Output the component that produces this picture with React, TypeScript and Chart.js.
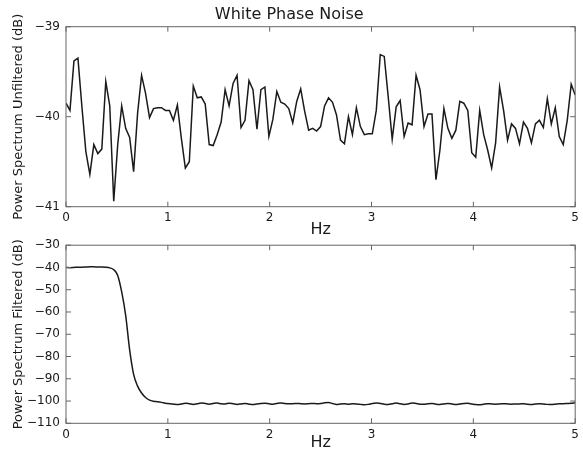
import React, { useEffect, useRef } from 'react';
import { Chart, registerables } from 'chart.js';

Chart.register(...registerables);

// ---------- data ----------
const FREQ_MAX_HZ = 5;
const N_BINS = 128; // 129 frequency bins from 0 to 5 Hz

const UNFILTERED_DB = [
  -39.85, -39.93, -39.38, -39.35, -39.89, -40.39, -40.64, -40.31, -40.41, -40.36,
  -39.61, -39.88, -40.94, -40.31, -39.88, -40.13, -40.23, -40.61, -39.96, -39.54,
  -39.74, -40.01, -39.91, -39.90, -39.90, -39.93, -39.93, -40.04, -39.87, -40.24,
  -40.57, -40.50, -39.66, -39.79, -39.78, -39.86, -40.31, -40.32, -40.20, -40.06,
  -39.70, -39.88, -39.63, -39.54, -40.12, -40.04, -39.60, -39.70, -40.14, -39.70,
  -39.67, -40.22, -40.03, -39.72, -39.84, -39.86, -39.91, -40.07, -39.83, -39.69,
  -39.94, -40.15, -40.13, -40.16, -40.11, -39.88, -39.79, -39.84, -39.98, -40.26,
  -40.30, -40.00, -40.20, -39.90, -40.11, -40.20, -40.19, -40.19, -39.93, -39.31,
  -39.33, -39.78, -40.25, -39.89, -39.82, -40.22, -40.07, -40.09, -39.54, -39.70,
  -40.11, -39.97, -39.97, -40.70, -40.37, -39.91, -40.13, -40.24, -40.15, -39.83,
  -39.85, -39.93, -40.40, -40.45, -39.93, -40.20, -40.37, -40.57, -40.29, -39.67,
  -39.93, -40.26, -40.08, -40.13, -40.30, -40.06, -40.13, -40.29, -40.08, -40.04,
  -40.12, -39.80, -40.08, -39.90, -40.22, -40.31, -40.04, -39.64, -39.76,
];

const FILTERED_DB = [
  -40.0, -40.1, -40.0, -39.9, -39.9, -39.8, -39.7, -39.7, -39.8, -39.8,
  -39.9, -40.2, -41.0, -43.6, -51.0, -61.5, -77.0, -88.0, -93.3, -96.4,
  -98.4, -99.6, -100.1, -100.3, -100.6, -101.0, -101.2, -101.4, -101.6, -101.3,
  -101.0, -101.2, -101.5, -101.2, -100.9, -101.1, -101.4, -101.1, -100.9, -101.2,
  -101.3, -101.0, -101.2, -101.5, -101.3, -101.1, -101.4, -101.6, -101.3, -101.1,
  -101.0, -101.2, -101.4, -101.1, -100.9, -101.1, -101.2, -101.2, -101.1, -101.2,
  -101.3, -101.2, -101.1, -101.2, -101.1, -100.8, -100.7, -101.1, -101.5, -101.3,
  -101.2, -101.4, -101.2, -101.3, -101.5, -101.7, -101.5, -101.1, -100.9, -101.1,
  -101.4, -101.5, -101.2, -100.9, -101.2, -101.5, -101.3, -100.9, -101.1, -101.4,
  -101.4, -101.2, -101.1, -101.4, -101.5, -101.3, -101.1, -101.3, -101.6, -101.3,
  -101.1, -101.0, -101.3, -101.6, -101.7, -101.4, -101.2, -101.3, -101.4, -101.3,
  -101.2, -101.3, -101.4, -101.3, -101.3, -101.2, -101.4, -101.5, -101.3, -101.2,
  -101.3, -101.5, -101.6, -101.4, -101.2, -101.2, -101.1, -101.0, -100.8,
];

const X_TICKS = [0, 1, 2, 3, 4, 5];
const TOP_Y_RANGE = [-41, -39];
const TOP_Y_STEP = 1;
const BOTTOM_Y_RANGE = [-110, -30];
const BOTTOM_Y_STEP = 10;

const TITLE = 'White Phase Noise';
const TOP_Y_LABEL = 'Power Spectrum Unfiltered (dB)';
const BOTTOM_Y_LABEL = 'Power Spectrum Filtered (dB)';
const X_LABEL = 'Hz';

const FREQS = UNFILTERED_DB.map((_, i) => (i * FREQ_MAX_HZ) / N_BINS);

// ---------- styling ----------
const FONT = 'DejaVu Sans';
const TEXT = '#1a1a1a';
const LINE = '#1a1a1a';
const FRAME = '#666666';

const minusify = (v: number | string) => String(v).replace('-', '\u2212');

const framePlugin = {
  id: 'mplFrame',
  afterDraw(chart: any) {
    const { ctx, chartArea: a, scales } = chart;
    const L = 5;
    ctx.save();
    ctx.strokeStyle = FRAME;
    ctx.lineWidth = 1;
    ctx.strokeRect(a.left, a.top, a.right - a.left, a.bottom - a.top);
    ctx.beginPath();
    scales.x.ticks.forEach((t: any) => {
      const px = scales.x.getPixelForValue(t.value);
      ctx.moveTo(px, a.bottom);
      ctx.lineTo(px, a.bottom - L);
      ctx.moveTo(px, a.top);
      ctx.lineTo(px, a.top + L);
    });
    scales.y.ticks.forEach((t: any) => {
      const py = scales.y.getPixelForValue(t.value);
      ctx.moveTo(a.left, py);
      ctx.lineTo(a.left + L, py);
      ctx.moveTo(a.right, py);
      ctx.lineTo(a.right - L, py);
    });
    ctx.stroke();
    ctx.restore();
  },
};

function makeConfig(opts: {
  values: number[];
  yRange: number[];
  yStep: number;
  yLabel: string;
  title?: string;
  xAxisHeight: number;
  padTop: number;
  smooth: boolean;
}): any {
  return {
    type: 'line',
    data: {
      datasets: [
        {
          data: opts.values.map((v, i) => ({ x: FREQS[i], y: v })),
          borderColor: LINE,
          borderWidth: 1.5,
          pointRadius: 0,
          fill: false,
          tension: 0,
          cubicInterpolationMode: opts.smooth ? 'monotone' : 'default',
        },
      ],
    },
    options: {
      responsive: false,
      animation: false,
      devicePixelRatio: 1,
      layout: { padding: { left: 0, right: 4.5, top: opts.padTop, bottom: 0 } },
      plugins: {
        legend: { display: false },
        tooltip: { enabled: false },
        title: opts.title
          ? {
              display: true,
              text: opts.title,
              color: TEXT,
              font: { family: FONT, size: 16, weight: 'normal' },
              padding: { top: 5.6, bottom: 1.9 },
            }
          : { display: false },
      },
      scales: {
        x: {
          type: 'linear',
          min: X_TICKS[0],
          max: X_TICKS[X_TICKS.length - 1],
          afterBuildTicks: (s: any) => {
            s.ticks = X_TICKS.map((v) => ({ value: v }));
          },
          ticks: {
            color: TEXT,
            font: { family: FONT, size: 12 },
            padding: 4,
            maxRotation: 0,
            autoSkip: false,
            callback: (v: any) => minusify(v),
          },
          grid: { display: false, drawTicks: false },
          border: { display: false },
          title: {
            display: true,
            text: X_LABEL,
            color: TEXT,
            font: { family: FONT, size: 16 },
            padding: { top: 0, bottom: 0.5 },
          },
          afterFit: (s: any) => {
            s.height = opts.xAxisHeight;
          },
        },
        y: {
          type: 'linear',
          min: opts.yRange[0],
          max: opts.yRange[1],
          ticks: {
            stepSize: opts.yStep,
            color: TEXT,
            font: { family: FONT, size: 12 },
            padding: 6,
            autoSkip: false,
            callback: (v: any) => minusify(v),
          },
          grid: { display: false, drawTicks: false },
          border: { display: false },
          title: {
            display: true,
            text: opts.yLabel,
            color: TEXT,
            font: { family: FONT, size: 13 },
            padding: { top: 11, bottom: 0 },
          },
          afterFit: (s: any) => {
            s.width = 66;
          },
        },
      },
    },
    plugins: [framePlugin],
  };
}

export default function App() {
  const topRef = useRef<HTMLCanvasElement>(null);
  const botRef = useRef<HTMLCanvasElement>(null);

  useEffect(() => {
    const top = new Chart(
      topRef.current as HTMLCanvasElement,
      makeConfig({
        values: UNFILTERED_DB,
        yRange: TOP_Y_RANGE,
        yStep: TOP_Y_STEP,
        yLabel: TOP_Y_LABEL,
        title: TITLE,
        xAxisHeight: 33.3,
        padTop: 0,
        smooth: false,
      })
    );
    const bot = new Chart(
      botRef.current as HTMLCanvasElement,
      makeConfig({
        values: FILTERED_DB,
        yRange: BOTTOM_Y_RANGE,
        yStep: BOTTOM_Y_STEP,
        yLabel: BOTTOM_Y_LABEL,
        xAxisHeight: 29.7,
        padTop: 11.3,
        smooth: true,
      })
    );
    return () => {
      top.destroy();
      bot.destroy();
    };
  }, []);

  return (
    <div
      style={{
        position: 'absolute',
        left: 0,
        top: 0,
        width: 583,
        height: 453,
        background: '#ffffff',
        overflow: 'hidden',
      }}
    >
      <canvas
        ref={topRef}
        width={583}
        height={240}
        style={{ position: 'absolute', left: 0, top: 0, width: 583, height: 240 }}
      />
      <canvas
        ref={botRef}
        width={583}
        height={221}
        style={{ position: 'absolute', left: 0, top: 232, width: 583, height: 221 }}
      />
    </div>
  );
}
